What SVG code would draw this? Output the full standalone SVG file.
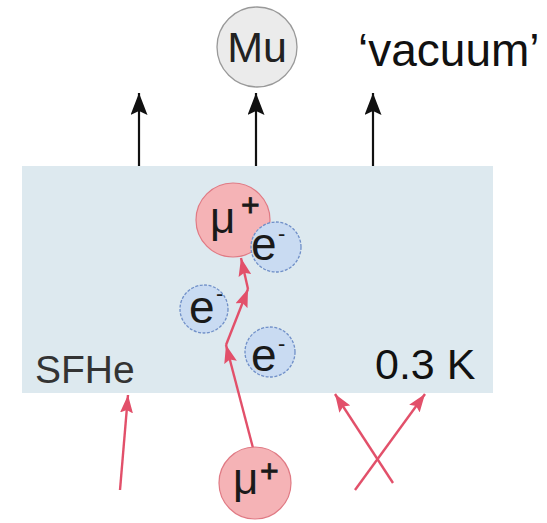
<svg xmlns="http://www.w3.org/2000/svg" width="547" height="523" viewBox="0 0 547 523">
  <defs>
    <marker id="ah-black" markerUnits="userSpaceOnUse" markerWidth="22" markerHeight="17" refX="22" refY="8.5" orient="auto">
      <path d="M0,0 L22,8.5 L0,17 L4,8.5 z" fill="#111"/>
    </marker>
    <marker id="ah-red" markerUnits="userSpaceOnUse" markerWidth="18" markerHeight="13" refX="18" refY="6.5" orient="auto">
      <path d="M0,0 L18,6.5 L0,13 L3,6.5 z" fill="#e2506a"/>
    </marker>
    <style>
      .lbl { font-family: "Liberation Sans", Arial, Helvetica, sans-serif; }
      .blk { stroke: #111; stroke-width: 2.2; fill: none; marker-end: url(#ah-black); }
      .red { stroke: #e2506a; stroke-width: 2.4; fill: none; marker-end: url(#ah-red); }
      .mu { fill: #f5b3b6; stroke: #e07a84; stroke-width: 1.2; }
      .el { fill: #c9dbf2; stroke: #6f8fc8; stroke-width: 1.3; stroke-dasharray: 3 1.5; }
      .sym { fill: #1a1a1a; }
      .plus { fill: #1a1a1a; stroke: #1a1a1a; stroke-width: 0.8; }
    </style>
  </defs>

  <g id="sfhe">
    <rect x="22" y="166" width="471" height="227" fill="#dde9ef"/>
    <text class="lbl" x="35" y="383" font-size="39" fill="#333">SFHe</text>
    <text class="lbl" x="375" y="379" font-size="43" fill="#111">0.3 K</text>
  </g>

  <g id="connectors">
    <line class="blk" x1="139" y1="166" x2="139" y2="93"/>
    <line class="blk" x1="256" y1="166" x2="256" y2="93" stroke-width="2.6"/>
    <line class="blk" x1="373" y1="166" x2="373" y2="93" stroke-width="2.6"/>

    <line class="red" x1="120" y1="490" x2="128" y2="395"/>
    <line class="red" x1="393" y1="483" x2="335" y2="394"/>
    <line class="red" x1="355" y1="490" x2="425" y2="394"/>

    <line class="red" x1="253" y1="448" x2="226" y2="345"/>
    <line class="red" x1="226" y1="345" x2="248" y2="289"/>
    <line class="red" x1="248" y1="289" x2="241" y2="258"/>
  </g>

  <g id="mu-atom">
    <circle cx="257" cy="47" r="40" fill="#ebebeb" stroke="#999" stroke-width="1.3"/>
    <text class="lbl" x="257" y="62" font-size="43" fill="#222" text-anchor="middle">Mu</text>
  </g>

  <g id="vacuum">
    <text class="lbl" x="358" y="66" font-size="46" fill="#111">‘vacuum’</text>
  </g>

  <g id="muon-top">
    <circle class="mu" cx="233" cy="220" r="37"/>
    <text class="lbl sym" x="210" y="233" font-size="44">μ</text>
    <text class="lbl plus" x="241" y="216" font-size="32">+</text>
  </g>

  <g id="electron-1">
    <circle class="el" cx="276" cy="247" r="25"/>
    <text class="lbl sym" x="251" y="260" font-size="46">e</text>
    <text class="lbl sym" x="278" y="241" font-size="22">-</text>
  </g>

  <g id="electron-2">
    <circle class="el" cx="204" cy="309" r="24"/>
    <text class="lbl sym" x="189" y="323" font-size="46">e</text>
    <text class="lbl sym" x="216" y="301" font-size="22">-</text>
  </g>

  <g id="electron-3">
    <circle class="el" cx="270" cy="352" r="25"/>
    <text class="lbl sym" x="251" y="371" font-size="46">e</text>
    <text class="lbl sym" x="278" y="351" font-size="22">-</text>
  </g>

  <g id="muon-bottom">
    <circle class="mu" cx="255" cy="483" r="36"/>
    <text class="lbl sym" x="233" y="494" font-size="44">μ</text>
    <text class="lbl plus" x="260" y="482" font-size="32">+</text>
  </g>
</svg>
